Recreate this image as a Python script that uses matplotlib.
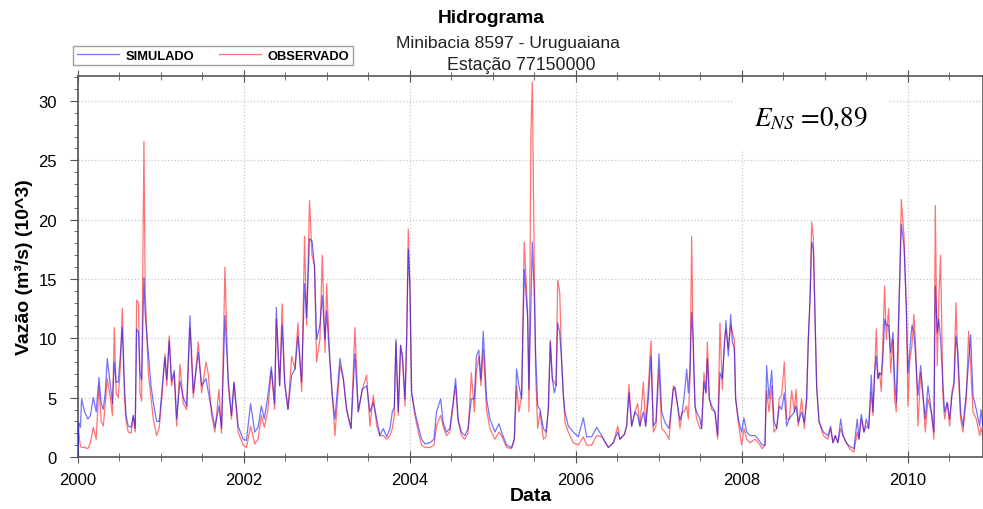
import matplotlib
matplotlib.use('Agg')
import matplotlib.pyplot as plt
from matplotlib.ticker import MultipleLocator
import numpy as np

plt.rcParams.update({
    'font.family': 'Liberation Sans',
    'xtick.labelsize': 12,
    'ytick.labelsize': 12,
})

t = [
    2000.000, 2000.010, 2000.030, 2000.044, 2000.080, 2000.120, 2000.150, 2000.185, 2000.220, 2000.253,
    2000.280, 2000.305, 2000.330, 2000.353, 2000.390, 2000.415, 2000.438, 2000.460, 2000.486, 2000.510,
    2000.534, 2000.560, 2000.580, 2000.606, 2000.640, 2000.667, 2000.690, 2000.707, 2000.730, 2000.747,
    2000.767, 2000.795, 2000.810, 2000.847, 2000.880, 2000.908, 2000.948, 2000.980, 2001.016, 2001.048,
    2001.070, 2001.100, 2001.128, 2001.160, 2001.189, 2001.229, 2001.269, 2001.310, 2001.349, 2001.370,
    2001.390, 2001.450, 2001.490, 2001.542, 2001.570, 2001.610, 2001.650, 2001.699, 2001.730, 2001.771,
    2001.810, 2001.850, 2001.880, 2001.930, 2001.990, 2002.030, 2002.080, 2002.130, 2002.170, 2002.210,
    2002.245, 2002.285, 2002.330, 2002.370, 2002.390, 2002.430, 2002.460, 2002.490, 2002.530, 2002.575,
    2002.615, 2002.650, 2002.695, 2002.730, 2002.755, 2002.790, 2002.820, 2002.850, 2002.875, 2002.915,
    2002.944, 2002.976, 2002.996, 2003.036, 2003.064, 2003.096, 2003.157, 2003.197, 2003.237, 2003.290,
    2003.337, 2003.377, 2003.426, 2003.478, 2003.518, 2003.558, 2003.600, 2003.638, 2003.678, 2003.719,
    2003.759, 2003.787, 2003.811, 2003.831, 2003.859, 2003.887, 2003.911, 2003.940, 2003.960, 2003.980,
    2004.000, 2004.020, 2004.060, 2004.100, 2004.140, 2004.180, 2004.240, 2004.290, 2004.320, 2004.370,
    2004.400, 2004.440, 2004.480, 2004.520, 2004.550, 2004.580, 2004.620, 2004.660, 2004.700, 2004.740,
    2004.775, 2004.800, 2004.830, 2004.855, 2004.883, 2004.923, 2004.963, 2005.024, 2005.072, 2005.104,
    2005.164, 2005.225, 2005.257, 2005.285, 2005.313, 2005.345, 2005.377, 2005.418, 2005.434, 2005.458,
    2005.474, 2005.498, 2005.514, 2005.539, 2005.567, 2005.607, 2005.639, 2005.667, 2005.691, 2005.715,
    2005.739, 2005.760, 2005.780, 2005.804, 2005.828, 2005.848, 2005.868, 2005.908, 2005.968, 2006.029,
    2006.089, 2006.129, 2006.189, 2006.250, 2006.310, 2006.390, 2006.450, 2006.503, 2006.530, 2006.583,
    2006.611, 2006.639, 2006.671, 2006.711, 2006.743, 2006.771, 2006.812, 2006.840, 2006.872, 2006.904,
    2006.932, 2006.964, 2007.000, 2007.033, 2007.073, 2007.121, 2007.173, 2007.193, 2007.225, 2007.253,
    2007.281, 2007.305, 2007.334, 2007.354, 2007.374, 2007.394, 2007.414, 2007.434, 2007.454, 2007.494,
    2007.514, 2007.542, 2007.566, 2007.583, 2007.607, 2007.635, 2007.675, 2007.707, 2007.735, 2007.763,
    2007.787, 2007.807, 2007.836, 2007.864, 2007.884, 2007.908, 2007.924, 2007.956, 2007.996, 2008.024,
    2008.056, 2008.097, 2008.157, 2008.197, 2008.245, 2008.277, 2008.297, 2008.326, 2008.358, 2008.386,
    2008.418, 2008.450, 2008.478, 2008.510, 2008.538, 2008.570, 2008.599, 2008.631, 2008.651, 2008.679,
    2008.719, 2008.751, 2008.779, 2008.799, 2008.820, 2008.840, 2008.860, 2008.880, 2008.900, 2008.928,
    2008.980, 2009.036, 2009.068, 2009.096, 2009.124, 2009.156, 2009.190, 2009.217, 2009.257, 2009.297,
    2009.349, 2009.389, 2009.410, 2009.438, 2009.470, 2009.498, 2009.526, 2009.558, 2009.578, 2009.598,
    2009.618, 2009.638, 2009.658, 2009.679, 2009.699, 2009.719, 2009.739, 2009.767, 2009.791, 2009.819,
    2009.839, 2009.859, 2009.879, 2009.900, 2009.920, 2009.952, 2009.980, 2010.000, 2010.020, 2010.048,
    2010.072, 2010.096, 2010.120, 2010.153, 2010.180, 2010.209, 2010.241, 2010.281, 2010.313, 2010.329,
    2010.353, 2010.373, 2010.393, 2010.422, 2010.442, 2010.474, 2010.502, 2010.530, 2010.554, 2010.578,
    2010.602, 2010.634, 2010.663, 2010.703, 2010.731, 2010.755, 2010.783, 2010.823, 2010.864, 2010.880,
    2010.904,
]

simulado = [
    0.1, 2.9, 2.5, 4.9, 3.8, 3.2, 3.5, 5.0, 3.8, 6.7,
    4.5, 4.0, 5.5, 8.3, 6.0, 4.5, 8.0, 6.3, 6.3, 8.5,
    10.9, 6.0, 3.5, 2.6, 2.5, 3.5, 2.4, 10.8, 10.5, 7.1,
    6.5, 15.1, 12.0, 8.8, 6.0, 4.6, 3.0, 3.0, 6.0, 8.4,
    6.5, 9.8, 6.4, 7.3, 3.2, 6.4, 5.0, 4.3, 11.9, 8.0,
    5.4, 8.8, 6.0, 6.6, 5.5, 4.0, 2.5, 4.3, 2.4, 11.9,
    6.6, 3.5, 6.3, 2.6, 1.5, 1.4, 4.5, 2.1, 2.5, 4.3,
    3.2, 5.0, 7.6, 4.5, 12.6, 6.0, 11.1, 6.3, 4.0, 6.9,
    7.4, 10.2, 6.3, 14.6, 11.7, 18.4, 18.2, 16.1, 9.9, 11.1,
    13.6, 9.9, 12.3, 8.0, 5.2, 3.2, 8.3, 6.6, 4.0, 2.4,
    8.7, 3.8, 5.7, 6.0, 3.8, 4.6, 3.2, 1.8, 2.4, 1.7,
    2.4, 3.8, 4.2, 9.9, 3.8, 9.4, 8.5, 4.9, 9.9, 17.5,
    14.2, 5.4, 3.8, 2.6, 1.5, 1.1, 1.2, 1.5, 3.8, 4.9,
    2.9, 2.1, 2.4, 4.6, 6.6, 3.2, 2.1, 1.8, 2.4, 4.9,
    4.9, 8.5, 9.0, 6.5, 10.6, 4.9, 3.2, 2.1, 2.8, 2.1,
    1.0, 0.8, 1.5, 7.4, 6.0, 4.9, 15.8, 11.6, 5.7, 13.0,
    18.1, 13.6, 8.8, 4.3, 4.0, 2.4, 2.1, 4.0, 9.7, 6.6,
    5.4, 6.0, 11.3, 10.5, 8.0, 5.2, 3.8, 2.6, 2.1, 1.7,
    3.3, 1.7, 1.7, 2.5, 1.8, 0.8, 1.2, 2.1, 1.5, 1.9,
    2.6, 5.4, 2.6, 3.8, 3.5, 2.6, 3.8, 2.6, 4.9, 8.5,
    2.6, 3.0, 8.7, 3.8, 2.9, 2.4, 5.7, 5.9, 4.3, 3.1,
    3.8, 5.2, 7.4, 5.4, 7.4, 12.2, 9.7, 4.3, 3.8, 3.2,
    2.4, 6.3, 5.4, 8.3, 4.9, 4.3, 3.8, 1.8, 7.1, 6.6,
    9.1, 11.5, 8.5, 12.0, 9.7, 9.1, 4.9, 3.2, 2.1, 3.3,
    2.1, 1.8, 1.8, 1.5, 1.0, 1.0, 7.7, 4.9, 7.3, 3.0,
    2.4, 4.3, 4.0, 5.4, 2.6, 3.2, 3.5, 3.8, 4.3, 2.9,
    3.8, 2.9, 4.9, 9.9, 13.3, 18.1, 17.5, 11.9, 5.9, 3.0,
    2.1, 1.8, 2.6, 1.2, 1.8, 1.2, 3.2, 1.8, 1.2, 0.9,
    0.7, 3.2, 1.5, 3.6, 2.1, 3.2, 2.4, 6.9, 3.8, 7.1,
    8.5, 6.6, 7.1, 6.9, 8.5, 11.6, 11.1, 11.1, 8.8, 10.5,
    6.6, 4.6, 9.9, 15.0, 19.6, 17.8, 12.7, 7.1, 8.8, 11.1,
    10.5, 8.0, 5.2, 7.7, 5.2, 3.2, 6.0, 3.8, 2.1, 14.4,
    10.5, 11.6, 9.9, 6.0, 3.8, 4.6, 3.2, 5.2, 6.0, 10.2,
    8.8, 3.8, 2.6, 5.5, 8.0, 10.3, 5.2, 4.0, 2.6, 4.0,
    2.6,
]

observado = [
    2.4, 2.0, 0.9, 0.8, 0.8, 0.7, 1.2, 2.5, 1.5, 6.0,
    3.0, 2.6, 4.5, 6.6, 5.0, 3.5, 10.9, 5.4, 5.0, 7.5,
    12.5, 5.0, 3.0, 2.1, 2.0, 3.5, 2.1, 13.2, 13.0, 5.4,
    4.7, 26.6, 14.0, 7.1, 5.0, 3.2, 1.8, 2.5, 5.4, 8.7,
    6.0, 10.2, 6.0, 7.0, 2.6, 7.8, 4.5, 4.0, 10.9, 8.8,
    5.0, 9.7, 5.4, 8.0, 7.0, 3.5, 2.1, 5.7, 2.0, 16.0,
    6.0, 3.2, 6.3, 2.1, 1.0, 0.8, 2.6, 1.1, 1.5, 3.5,
    2.5, 3.8, 7.3, 4.0, 11.6, 6.0, 12.9, 6.3, 4.0, 8.5,
    7.4, 11.3, 5.5, 18.6, 11.1, 21.6, 17.0, 16.1, 8.0, 9.9,
    17.0, 8.8, 14.6, 8.0, 5.2, 1.8, 7.7, 6.6, 4.0, 2.4,
    10.9, 3.8, 5.7, 6.9, 2.6, 5.2, 2.6, 1.8, 1.8, 1.5,
    1.8, 2.4, 3.5, 9.7, 3.5, 9.4, 8.0, 4.3, 9.9, 19.2,
    14.2, 5.4, 3.5, 2.1, 1.0, 0.8, 0.8, 1.0, 2.6, 3.5,
    2.6, 1.8, 2.1, 4.3, 6.0, 3.0, 1.8, 1.5, 2.0, 7.1,
    3.8, 7.1, 8.5, 6.0, 9.1, 4.0, 2.4, 1.5, 2.1, 1.8,
    0.8, 0.7, 1.5, 6.0, 3.8, 5.2, 18.1, 12.2, 3.8, 27.6,
    31.6, 16.1, 7.0, 2.4, 3.8, 1.5, 1.7, 4.0, 9.8, 6.6,
    6.3, 6.0, 14.9, 13.9, 8.0, 5.2, 2.9, 2.1, 1.2, 1.0,
    1.7, 1.0, 1.0, 1.8, 1.7, 0.8, 1.2, 2.6, 1.5, 1.9,
    2.6, 6.1, 2.6, 3.8, 4.5, 2.6, 6.3, 2.6, 5.9, 9.8,
    2.1, 2.6, 7.4, 2.4, 2.1, 1.5, 6.0, 5.7, 4.3, 2.4,
    3.8, 3.8, 4.3, 3.2, 6.6, 18.6, 8.3, 4.3, 3.2, 2.4,
    2.4, 7.1, 5.4, 9.7, 4.9, 4.0, 3.8, 1.5, 11.3, 5.7,
    9.7, 10.8, 9.1, 11.1, 10.5, 9.9, 4.9, 2.9, 1.0, 2.4,
    1.5, 1.2, 1.5, 1.2, 0.7, 1.0, 5.6, 3.8, 6.0, 2.1,
    2.4, 4.9, 5.2, 8.0, 3.2, 3.2, 5.6, 3.8, 5.7, 2.6,
    4.9, 2.4, 4.9, 9.7, 13.3, 19.8, 18.4, 11.9, 5.9, 3.0,
    1.8, 1.5, 2.4, 1.2, 1.8, 1.2, 2.4, 1.8, 1.2, 0.7,
    0.4, 2.1, 1.5, 3.2, 2.1, 2.6, 2.4, 5.5, 3.5, 6.9,
    10.8, 6.6, 7.1, 5.5, 10.2, 14.4, 9.9, 12.5, 7.1, 9.9,
    4.9, 3.8, 7.7, 15.0, 21.7, 18.6, 12.7, 4.3, 8.0, 9.4,
    12.0, 8.8, 2.6, 7.1, 5.2, 2.1, 4.9, 3.8, 1.5, 21.2,
    7.7, 13.6, 17.0, 4.9, 3.2, 4.6, 2.6, 5.5, 6.3, 13.0,
    7.7, 3.2, 2.1, 4.9, 10.6, 7.7, 3.8, 3.2, 1.8, 2.5,
    1.5,
]

# ── Figura ─────────────────────────────────────────────────────────────────────
fig = plt.figure(figsize=(9.83, 5.10), dpi=100)
ax = fig.add_axes([0.0793, 0.102, 0.9207, 0.747])

ax.plot(t, simulado, color='#0000ff', lw=0.9, alpha=0.55, label='SIMULADO', zorder=3)
ax.plot(t, observado, color='#ff0000', lw=0.9, alpha=0.55, label='OBSERVADO', zorder=2)

ax.set_xlim(2000, 2010.904)
ax.set_ylim(0, 32.1)
ax.xaxis.set_major_locator(MultipleLocator(2))
ax.xaxis.set_minor_locator(MultipleLocator(0.5))
ax.yaxis.set_major_locator(MultipleLocator(5))
ax.yaxis.set_minor_locator(MultipleLocator(1))
ax.set_xticklabels([f'{int(v)}' for v in ax.get_xticks()])

ax.grid(True, which='major', color='#c8c8c8', ls=':', lw=0.9, zorder=0)
ax.tick_params(axis='x', which='both', top=True, direction='inout', color='#555555')
ax.tick_params(axis='x', which='major', length=8, pad=7)
ax.tick_params(axis='x', which='minor', length=6)
ax.tick_params(axis='y', which='major', direction='out', length=6, pad=9, color='#555555')
ax.tick_params(axis='y', which='minor', direction='out', length=3, color='#555555')
for sp in ax.spines.values():
    sp.set_color('#555555')
    sp.set_linewidth(1.2)

ax.set_ylabel('Vazão (m³/s) (10^3)', fontsize=14, fontweight='bold', labelpad=4)
ax.set_xlabel('Data', fontsize=14, fontweight='bold', labelpad=0)

fig.text(0.500, 0.963, 'Hidrograma', ha='center', va='center', fontsize=13.8, fontweight='bold')
fig.text(0.517, 0.914, 'Minibacia 8597 - Uruguaiana', ha='center', va='center', fontsize=12.6,
         color='#222222')
fig.text(0.530, 0.872, 'Estação 77150000', ha='center', va='center', fontsize=12.8,
         color='#222222')

leg = fig.legend(loc='center left', bbox_to_anchor=(0.068, 0.889), ncol=2, frameon=True,
                 fancybox=False, edgecolor='#888888', prop={'weight': 'bold', 'size': 9.3},
                 handlelength=3.3, columnspacing=1.9, borderpad=0.25, handletextpad=0.5)
leg.get_frame().set_linewidth(1.0)

plt.rcParams['mathtext.fontset'] = 'stix'
ax.text(2008.83, 28.6, r'$E_{NS}$ =0,89', ha='center', va='center', fontsize=19.5,
        family='STIXGeneral', zorder=5,
        bbox=dict(boxstyle='square,pad=0.75', fc='white', ec='none'))

fig.savefig('out.png', dpi=100)
